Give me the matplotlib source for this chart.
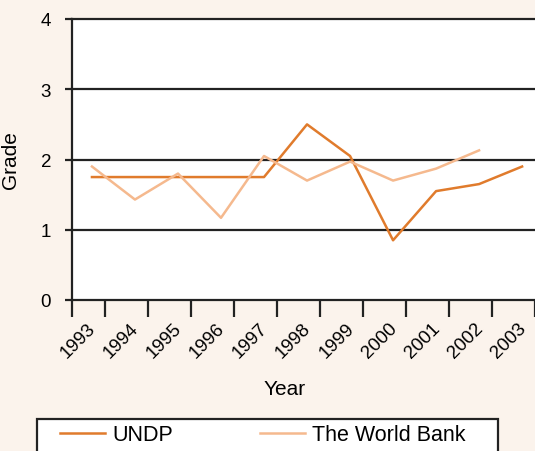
import numpy as np
import matplotlib
matplotlib.use('Agg')
import matplotlib.pyplot as plt
from matplotlib.patches import Rectangle

# data
years = ['1993', '1994', '1995', '1996', '1997', '1998', '1999', '2000', '2001', '2002', '2003']
undp = [1.75, 1.75, 1.75, 1.75, 1.75, 2.5, 2.05, 0.85, 1.55, 1.65, 1.9]
world_bank = [1.9, 1.43, 1.8, 1.17, 2.05, 1.7, 1.97, 1.7, 1.87, 2.13]

bg = '#FBF3EC'
c_undp = '#E07B2C'
c_wb = '#F5B98E'

plt.rcParams['font.family'] = ['Liberation Sans', 'DejaVu Sans']

fig = plt.figure(figsize=(5.35, 4.52), dpi=100, facecolor=bg)
ax = fig.add_axes([72/535, 1-301/452, 1-72/535, 281/452])
ax.set_facecolor('white')

x = np.arange(len(years))
ax.plot(x, undp, color=c_undp, lw=1.8, label='UNDP', zorder=3)
ax.plot(x[:len(world_bank)], world_bank, color=c_wb, lw=1.8, label='The World Bank', zorder=3)

ax.set_xlim(-0.464, 10.28)
ax.set_ylim(0, 4)

# grid lines
for g in [1, 2, 3, 4]:
    ax.axhline(g, color='#222222', lw=1.6, zorder=1, clip_on=False)

for s in ['top', 'right']:
    ax.spines[s].set_visible(False)
for s in ['left', 'bottom']:
    ax.spines[s].set_color('#222222')
    ax.spines[s].set_linewidth(1.6)

ax.set_yticks([0, 1, 2, 3, 4])
ax.tick_params(axis='y', direction='out', length=5, width=1.6, color='#222222',
               labelsize=13.5, pad=10)

# labels sit a bit left of the tick marks
ax.set_xticks(x + 0.03)
ax.set_xticklabels(years, rotation=45, ha='right', va='center', rotation_mode='anchor')
ax.tick_params(axis='x', which='major', length=0, labelsize=13.5, pad=18)
ax.set_xticks(np.append(x + 0.3, -0.464), minor=True)
ax.tick_params(axis='x', which='minor', direction='out', length=12.5, width=1.6, color='#222222')

ax.set_ylabel('Grade', fontsize=15)
ax.yaxis.set_label_coords(-0.112, 0.5)
ax.set_xlabel('Year', fontsize=15)
ax.xaxis.set_label_coords(0.46, -0.28)

# legend box, cut off at the bottom like the original
fig.patches.append(Rectangle((37/535, -0.02), 461/535, 1-420/452+0.02, transform=fig.transFigure,
                             facecolor='white', edgecolor='#222222', lw=1.6, zorder=0))
leg = fig.legend(loc='center left', bbox_to_anchor=(60/535, 1-436/452), ncol=2,
                 fontsize=15.5, handlelength=2.1, handletextpad=0.35, columnspacing=4.0,
                 borderpad=0, borderaxespad=0, frameon=False)

fig.savefig('out.png', dpi=100, facecolor=bg)
